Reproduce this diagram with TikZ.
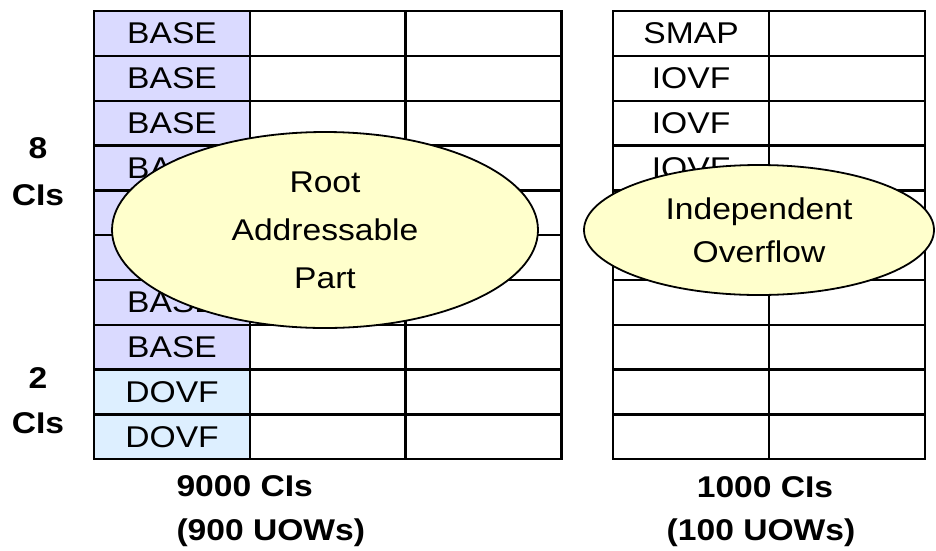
\documentclass[tikz,border=0pt]{standalone}
\usepackage{fontspec}
\setmainfont{Liberation Sans}[FakeStretch=1.12]
\usetikzlibrary{shapes.geometric}
\definecolor{basefill}{HTML}{DADAFF}
\definecolor{dovffill}{HTML}{DDEFFF}
\definecolor{ovalfill}{HTML}{FFFFCC}
\begin{document}
\begin{tikzpicture}[x=1pt,y=-1pt,
  cell/.style={draw=black, line width=2.4pt, minimum width=155.7pt, minimum height=44.8pt,
    inner sep=0pt, anchor=north west, font=\fontsize{30}{30}\selectfont},
  basecell/.style={cell, fill=basefill},
  dovfcell/.style={cell, fill=dovffill},
  oval/.style={ellipse, draw=black, line width=1.8pt, fill=ovalfill, inner sep=0pt,
    align=center},
  side/.style={font=\bfseries\fontsize{30}{30}\selectfont, anchor=base}
]
\useasboundingbox (0,0) rectangle (936,550);
% left grid
\foreach \r in {0,...,9}{
  \foreach \c in {1,2}{
    \node[cell] (l-\r-\c) at ({93+155.7*\c},{10+44.8*\r}) {};
  }
}
\foreach \r in {0,...,7}{
  \node[basecell] (l-\r-0) at (93,{10+44.8*\r}) {BASE};
}
\foreach \r in {8,9}{
  \node[dovfcell] (l-\r-0) at (93,{10+44.8*\r}) {DOVF};
}
% right grid
\foreach \r in {0,...,9}{
  \node[cell] (r-\r-1) at (768,{10+44.8*\r}) {};
}
\node[cell] (r-0-0) at (612,10) {SMAP};
\foreach \r in {1,2,3}{
  \node[cell] (r-\r-0) at (612,{10+44.8*\r}) {IOVF};
}
\foreach \r in {4,...,9}{
  \node[cell] (r-\r-0) at (612,{10+44.8*\r}) {};
}
% ovals
\node[oval, minimum width=426pt, minimum height=196pt,
  font=\fontsize{30}{48}\selectfont] (root) at (325,230) {Root\\Addressable\\Part};
\node[oval, minimum width=350pt, minimum height=130pt,
  font=\fontsize{30}{43}\selectfont] (iovf) at (759,230) {Independent\\Overflow};
% side labels
\node[side] (n8) at (38,158) {8};
\node[side] (c8) at (38,205) {CIs};
\node[side] (n2) at (38,388) {2};
\node[side] (c2) at (38,433) {CIs};
% bottom labels
\node[side, anchor=base west] (b1) at (173,496) {9000 CIs};
\node[side, anchor=base west] (b2) at (173,540) {(900 UOWs)};
\node[side] (b3) at (765,497) {1000 CIs};
\node[side] (b4) at (761,540) {(100 UOWs)};
\end{tikzpicture}
\end{document}
